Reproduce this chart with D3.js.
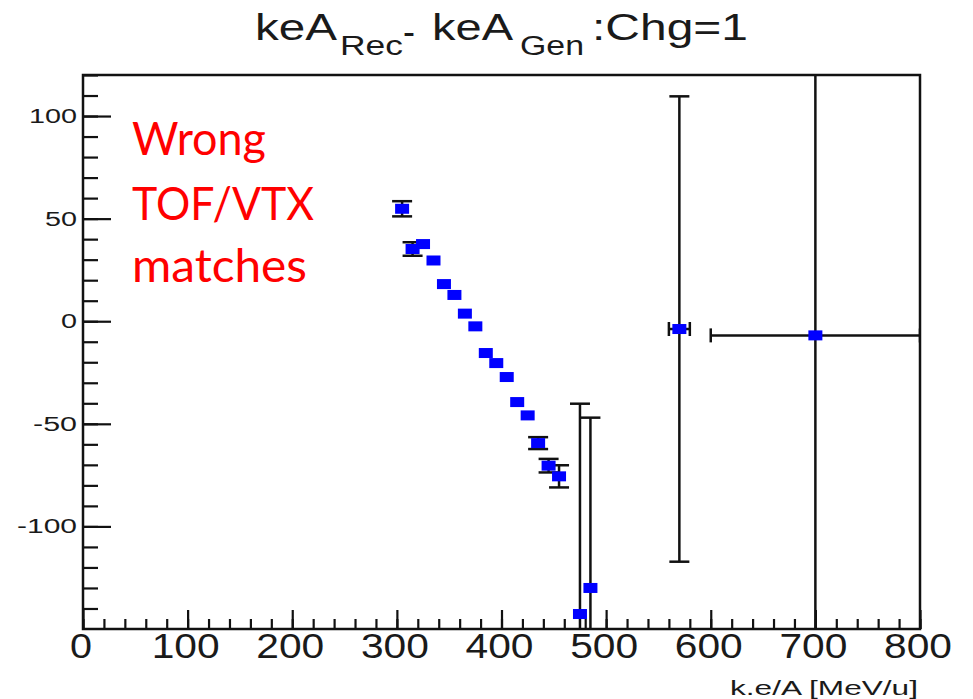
<!DOCTYPE html>
<html>
<head>
<meta charset="utf-8">
<script src="https://cdn.jsdelivr.net/npm/d3@7"></script>
<style>
  html, body { margin: 0; padding: 0; background: #fff; }
  svg { display: block; }
</style>
</head>
<body>
<svg id="chart" width="973" height="699"></svg>
<script>
// Bin centres of kinetic energy per nucleon [MeV/u]
const binCenters = [305, 315, 325, 335, 345, 355, 365, 375, 385, 395,
                    405, 415, 425, 435, 445, 455, 475, 485, 570, 700];
// Half bin widths (horizontal error)
const binHalfWidths = [5, 5, 5, 5, 5, 5, 5, 5, 5, 5,
                       5, 5, 5, 5, 5, 5, 5, 5, 10, 100];
// Mean keA_Rec - keA_Gen in each bin
const meanDiff = [54.8, 35.2, 37.6, 29.6, 18.1, 12.8, 3.7, -2.5, -15.5, -20.4,
                  -27.2, -39.4, -45.9, -59.4, -70.4, -75.6, -142.7, -130.0, -3.8, -6.9];
// Uncertainty on the mean
const meanErr = [3.7, 3.3, 2.0, 1.8, 1.6, 1.7, 1.8, 1.9, 2.0, 1.9,
                 2.0, 2.1, 2.1, 2.9, 3.3, 5.4, 102.5, 83.0, 113.4, 200.0];

const xMajorTicks = [0, 100, 200, 300, 400, 500, 600, 700, 800];
const yMajorTicks = [100, 50, 0, -50, -100];
const noteLines = ["Wrong", "TOF/VTX", "matches"];

const svg = d3.select("#chart");
const frame = { left: 83, right: 920, top: 75, bottom: 629 };

const x = d3.scaleLinear().domain([0, 800]).range([frame.left, frame.right]);
const y = d3.scaleLinear().domain([-150, 120]).range([frame.bottom, frame.top]);

svg.append("rect").attr("width", 973).attr("height", 699).attr("fill", "#fff");

// Title: keA_Rec - keA_Gen : Chg=1
const title = svg.append("g").attr("font-family", "Liberation Sans, Arial, sans-serif").attr("fill", "#1a1a1a");
const titleParts = [
  { t: "keA", x: 255, y: 40, s: 37, w: 82 },
  { t: "Rec", x: 340, y: 55, s: 27, w: 63 },
  { t: "-",   x: 403, y: 44, s: 37, w: 12 },
  { t: "keA", x: 432, y: 40, s: 37, w: 81 },
  { t: "Gen", x: 520, y: 55, s: 27, w: 64 },
  { t: ":Chg=1", x: 592, y: 40, s: 37, w: 156 }
];
title.selectAll("text").data(titleParts).join("text")
  .attr("x", d => d.x).attr("y", d => d.y)
  .attr("font-size", d => d.s)
  .attr("textLength", d => d.w).attr("lengthAdjust", "spacingAndGlyphs")
  .text(d => d.t);

// Axes with inward ticks
const axisStyle = g => {
  g.select(".domain").remove();
  g.selectAll(".tick line").attr("stroke", "#111").attr("stroke-width", 2.2);
  g.selectAll(".tick text").remove();
};

svg.append("g").attr("transform", `translate(0,${frame.bottom})`)
  .call(d3.axisBottom(x).tickValues(d3.range(0, 801, 20)).tickSize(-10).tickFormat(""))
  .call(axisStyle);
svg.append("g").attr("transform", `translate(0,${frame.bottom})`)
  .call(d3.axisBottom(x).tickValues(xMajorTicks).tickSize(-19).tickFormat(""))
  .call(axisStyle);
svg.append("g").attr("transform", `translate(${frame.left},0)`)
  .call(d3.axisLeft(y).tickValues(d3.range(-140, 121, 10)).tickSize(-15).tickFormat(""))
  .call(axisStyle);
svg.append("g").attr("transform", `translate(${frame.left},0)`)
  .call(d3.axisLeft(y).tickValues(yMajorTicks).tickSize(-28).tickFormat(""))
  .call(axisStyle);

// Tick labels
svg.append("g").attr("font-family", "'Liberation Sans Narrow', 'Liberation Sans', Arial, sans-serif").attr("fill", "#1a1a1a")
  .selectAll("text").data(xMajorTicks).join("text")
  .attr("x", d => x(d) - 2).attr("y", 658)
  .attr("font-size", 35).attr("text-anchor", "middle")
  .attr("textLength", d => String(d).length * 23 - 1).attr("lengthAdjust", "spacingAndGlyphs")
  .text(d => d);

svg.append("g").attr("font-family", "Liberation Sans, Arial, sans-serif").attr("fill", "#1a1a1a")
  .selectAll("text").data(yMajorTicks).join("text")
  .attr("x", 77).attr("y", d => y(d) + 7)
  .attr("font-size", 20).attr("text-anchor", "end")
  .attr("textLength", d => String(Math.abs(d)).length * 16 + (d < 0 ? 12 : 0))
  .attr("lengthAdjust", "spacingAndGlyphs")
  .text(d => d);

// Axis title
svg.append("text")
  .attr("x", 918).attr("y", 695).attr("text-anchor", "end")
  .attr("font-family", "Liberation Sans, Arial, sans-serif").attr("font-size", 21).attr("fill", "#1a1a1a")
  .attr("textLength", 188).attr("lengthAdjust", "spacingAndGlyphs")
  .text("k.e/A [MeV/u]");

// Data with error bars, clipped to the frame
svg.append("clipPath").attr("id", "plotClip")
  .append("rect").attr("x", frame.left).attr("y", frame.top)
  .attr("width", frame.right - frame.left).attr("height", frame.bottom - frame.top);

const points = binCenters.map((c, i) => ({ c, hw: binHalfWidths[i], v: meanDiff[i], e: meanErr[i] }));
const plot = svg.append("g").attr("clip-path", "url(#plotClip)");
const markerW = 14, markerH = 10, capV = 10, capH = 7;

const bars = plot.append("g").attr("stroke", "#111").attr("stroke-width", 2.5).attr("fill", "none");
points.forEach(p => {
  const cx = x(p.c), cy = y(p.v);
  const yTop = y(p.v + p.e), yBot = y(p.v - p.e);
  if (cy - yTop > markerH / 2) {
    bars.append("line").attr("x1", cx).attr("x2", cx).attr("y1", yTop).attr("y2", yBot);
    bars.append("line").attr("x1", cx - capV).attr("x2", cx + capV).attr("y1", yTop).attr("y2", yTop);
    bars.append("line").attr("x1", cx - capV).attr("x2", cx + capV).attr("y1", yBot).attr("y2", yBot);
  }
  const xL = x(p.c - p.hw), xR = x(p.c + p.hw);
  if (cx - xL > markerW / 2) {
    bars.append("line").attr("x1", xL).attr("x2", xR).attr("y1", cy).attr("y2", cy);
    bars.append("line").attr("x1", xL).attr("x2", xL).attr("y1", cy - capH).attr("y2", cy + capH);
    bars.append("line").attr("x1", xR).attr("x2", xR).attr("y1", cy - capH).attr("y2", cy + capH);
  }
});

plot.append("g").selectAll("rect").data(points).join("rect")
  .attr("x", d => x(d.c) - markerW / 2).attr("y", d => y(d.v) - markerH / 2)
  .attr("width", markerW).attr("height", markerH)
  .attr("fill", "#0000ff");

// Frame
svg.append("rect")
  .attr("x", frame.left).attr("y", frame.top)
  .attr("width", frame.right - frame.left).attr("height", frame.bottom - frame.top)
  .attr("fill", "none").attr("stroke", "#111").attr("stroke-width", 2.5);

// Annotation
svg.append("g").attr("font-family", "Lato, 'Open Sans', sans-serif").attr("font-size", 46).attr("fill", "#ff0000")
  .selectAll("text").data(noteLines).join("text")
  .attr("x", 132).attr("y", (d, i) => [155, 220, 282][i])
  .attr("textLength", (d, i) => [134, 182, 175][i]).attr("lengthAdjust", "spacingAndGlyphs")
  .text(d => d);
</script>
</body>
</html>
